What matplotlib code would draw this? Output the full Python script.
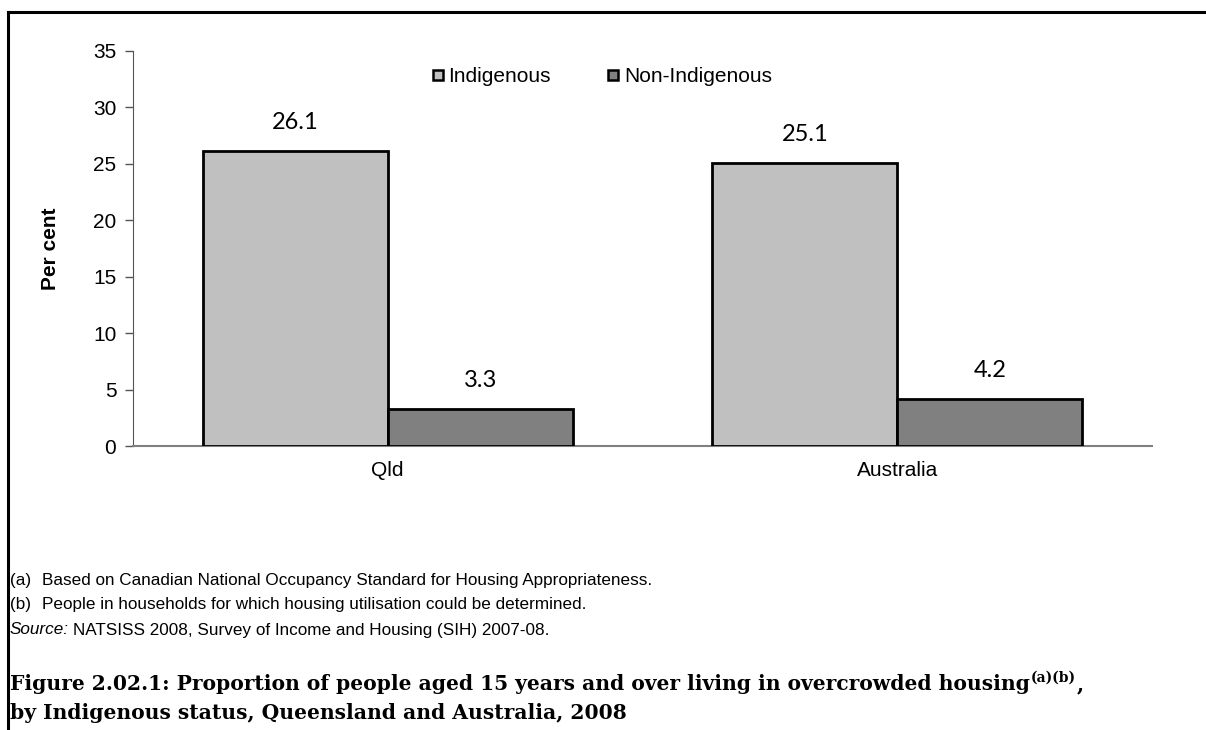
import matplotlib.pyplot as plt
import numpy as np
from matplotlib.lines import Line2D

categories = ["Qld", "Australia"]
series_names = ["Indigenous", "Non-Indigenous"]
indigenous = [26.1, 25.1]
non_indigenous = [3.3, 4.2]
y_ticks = [0, 5, 10, 15, 20, 25, 30, 35]

colors = ["#c0c0c0", "#808080"]
W, H = 1206, 730

fig = plt.figure(figsize=(W / 100, H / 100), dpi=100)
ax = fig.add_axes([133 / W, 1 - 446 / H, (1152 - 133) / W, (446 - 51) / H])

x = np.arange(len(categories))
w = 0.363
for i, (vals, name) in enumerate(zip([indigenous, non_indigenous], series_names)):
    pos = x + (i - 0.5) * w
    ax.bar(pos, vals, w, color=colors[i], edgecolor="black", linewidth=2, label=name, zorder=3)
    for p, v in zip(pos, vals):
        ax.annotate(f"{v:.1f}", (p, v), xytext=(0, 13), textcoords="offset points",
                    ha="center", va="bottom", fontsize=17, family="Lato")

ax.set_xlim(-0.5, 1.5)
ax.set_ylim(0, 35)
ax.set_yticks(y_ticks)
ax.set_xticks(x)
ax.set_xticklabels(categories, family="Liberation Sans", fontsize=15)
for lbl in ax.get_yticklabels():
    lbl.set_family("Liberation Sans")
    lbl.set_fontsize(15)
ax.tick_params(axis="x", length=0, pad=11)
ax.tick_params(axis="y", length=6, width=1, color="#555555", pad=6)
for s in ["top", "right"]:
    ax.spines[s].set_visible(False)
ax.spines["left"].set_color("#555555")
ax.spines["bottom"].set_color("#808080")
ax.spines["bottom"].set_linewidth(1.5)
ax.set_ylabel("Per cent", family="Liberation Sans", fontsize=15, fontweight="bold", labelpad=24)

handles = [Line2D([], [], marker="s", linestyle="none", markersize=7.5,
                  markerfacecolor=c, markeredgecolor="black", markeredgewidth=1.8) for c in colors]
ax.legend(handles, series_names, loc="center", bbox_to_anchor=(0.459, 1 - 26 / 395), ncol=2,
          frameon=False, prop={"family": "Liberation Sans", "size": 15},
          handletextpad=0.1, columnspacing=2.6, handlelength=0.8)

# frame around the figure area
fig.add_artist(Line2D([8 / W, 8 / W], [0, 1 - 12 / H], color="black", linewidth=2.2))
fig.add_artist(Line2D([8 / W, 1], [1 - 12 / H, 1 - 12 / H], color="black", linewidth=2.2))

renderer = fig.canvas.get_renderer()

fn = {"family": "Liberation Sans", "fontsize": 12.3, "va": "center"}
fig.text(10 / W, 1 - 581 / H, "(a)", **fn)
fig.text(42 / W, 1 - 581 / H, "Based on Canadian National Occupancy Standard for Housing Appropriateness.", **fn)
fig.text(10 / W, 1 - 604 / H, "(b)", **fn)
fig.text(42 / W, 1 - 604 / H, "People in households for which housing utilisation could be determined.", **fn)
src = fig.text(10 / W, 1 - 630 / H, "Source:", style="italic", **fn)
x_end = src.get_window_extent(renderer).x1
fig.text((x_end + 4) / W, 1 - 630 / H, "NATSISS 2008, Survey of Income and Housing (SIH) 2007-08.", **fn)

tt = {"family": "DejaVu Serif", "fontsize": 14.6, "fontweight": "bold"}
t1 = fig.text(10 / W, 1 - 690 / H,
              "Figure 2.02.1: Proportion of people aged 15 years and over living in overcrowded housing",
              va="baseline", **tt)
x_end = t1.get_window_extent(renderer).x1
sup = fig.text((x_end + 1) / W, 1 - 682 / H, "(a)(b)", va="baseline",
               family="DejaVu Serif", fontsize=10, fontweight="bold")
x_end = sup.get_window_extent(renderer).x1
fig.text((x_end + 1) / W, 1 - 690 / H, ",", va="baseline", **tt)
fig.text(10 / W, 1 - 719 / H, "by Indigenous status, Queensland and Australia, 2008", va="baseline", **tt)

fig.savefig("out.png", dpi=100)
